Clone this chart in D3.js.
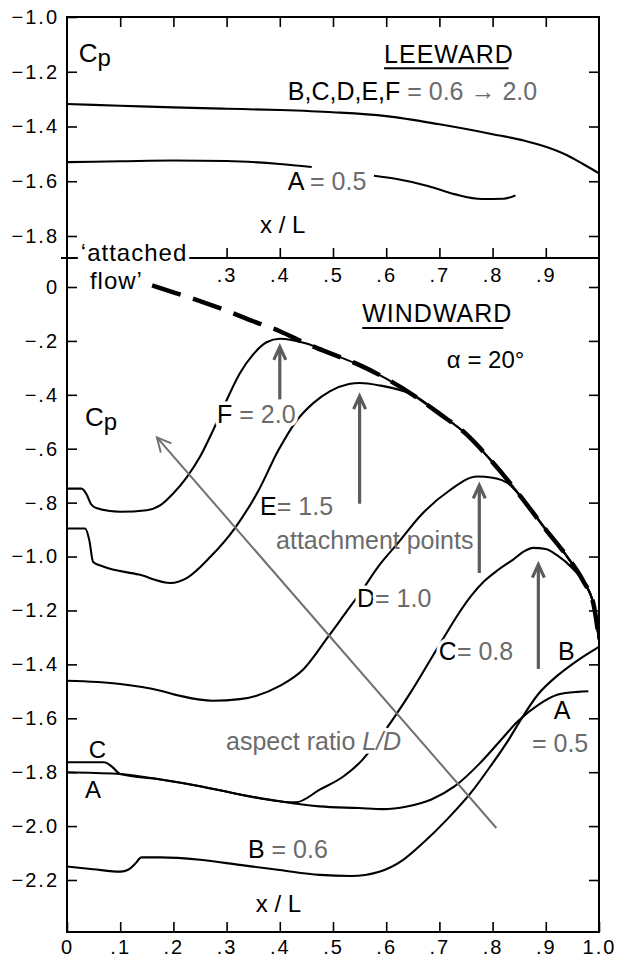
<!DOCTYPE html>
<html>
<head>
<meta charset="utf-8">
<script src="https://cdn.jsdelivr.net/npm/d3@7"></script>
<style>
body { margin: 0; background: #fff; }
svg { display: block; }
text { font-family: "Liberation Sans", Arial, sans-serif; }
</style>
</head>
<body>
<svg id="chart" width="624" height="958"></svg>
<script>
// ---- leeward (upper panel) ----
var leeBF_x = [0, 0.1, 0.2, 0.3, 0.4, 0.5, 0.6, 0.7, 0.8, 0.86, 0.9, 0.94, 0.97, 1.0];
var leeBF_y = [-1.318, -1.324, -1.330, -1.335, -1.340, -1.348, -1.362, -1.392, -1.428, -1.452, -1.474, -1.505, -1.537, -1.571];
var leeA_x = [0, 0.1, 0.2, 0.3, 0.4, 0.46, 0.52, 0.577, 0.62, 0.68, 0.73, 0.78, 0.82, 0.843];
var leeA_y = [-1.53, -1.527, -1.524, -1.526, -1.537, -1.548, null, -1.580, -1.592, -1.618, -1.648, -1.665, -1.664, -1.652];

// ---- windward (lower panel) ----
// common attached-flow branch that F, E, D, C run into
var tail_x = [0.45, 0.5, 0.55, 0.6, 0.65, 0.7, 0.75, 0.8, 0.85, 0.9, 0.94, 0.97, 0.99, 1.0];
var tail_y = [-0.21, -0.25, -0.29, -0.34, -0.40, -0.47, -0.545, -0.65, -0.77, -0.90, -1.0, -1.09, -1.18, -1.31];
var att_x = [0.16, 0.2, 0.25, 0.3, 0.35, 0.4];
var att_y = [0.006, -0.02, -0.052, -0.088, -0.127, -0.164];

var F_x = [0, 0.027, 0.037, 0.045, 0.055, 0.1, 0.15, 0.175, 0.2, 0.225, 0.25, 0.275, 0.3, 0.325, 0.35, 0.375, 0.4];
var F_y = [-0.748, -0.748, -0.77, -0.805, -0.82, -0.834, -0.828, -0.81, -0.765, -0.706, -0.63, -0.53, -0.42, -0.32, -0.25, -0.205, -0.192];
var E_x = [0, 0.034, 0.042, 0.049, 0.068, 0.135, 0.195, 0.225, 0.27, 0.315, 0.36, 0.397, 0.43, 0.464, 0.494, 0.53, 0.55, 0.59, 0.63];
var E_y = [-0.896, -0.896, -0.94, -1.02, -1.037, -1.067, -1.098, -1.08, -1.0, -0.896, -0.755, -0.607, -0.50, -0.429, -0.387, -0.36, -0.356, -0.366, -0.385];
var D_x = [0, 0.1, 0.176, 0.213, 0.273, 0.325, 0.355, 0.4, 0.445, 0.49, 0.527, 0.553, 0.584, 0.622, 0.666, 0.719, 0.771, 0.80, 0.83];
var D_y = [-1.461, -1.473, -1.498, -1.517, -1.535, -1.529, -1.517, -1.48, -1.417, -1.30, -1.20, -1.13, -1.04, -0.95, -0.845, -0.755, -0.703, -0.708, -0.73];
var C_x = [0, 0.07, 0.085, 0.1, 0.176, 0.25, 0.325, 0.4, 0.43, 0.475, 0.52, 0.553, 0.585, 0.617, 0.646, 0.684, 0.71, 0.735, 0.76, 0.785, 0.81, 0.838, 0.86, 0.876, 0.90, 0.921, 0.951];
var C_y = [-1.763, -1.763, -1.78, -1.807, -1.827, -1.852, -1.883, -1.908, -1.912, -1.865, -1.815, -1.759, -1.68, -1.591, -1.504, -1.38, -1.295, -1.215, -1.145, -1.09, -1.05, -1.012, -0.98, -0.968, -0.972, -0.995, -1.045];
var A_x = [0, 0.093, 0.176, 0.25, 0.325, 0.4, 0.475, 0.549, 0.594, 0.639, 0.684, 0.729, 0.774, 0.811, 0.848, 0.886, 0.923, 0.96, 0.98];
var A_y = [-1.8, -1.806, -1.827, -1.852, -1.883, -1.908, -1.927, -1.933, -1.937, -1.927, -1.902, -1.852, -1.771, -1.691, -1.61, -1.55, -1.512, -1.502, -1.5];
var B_x = [0, 0.049, 0.101, 0.115, 0.128, 0.14, 0.176, 0.25, 0.325, 0.4, 0.475, 0.534, 0.587, 0.632, 0.669, 0.714, 0.759, 0.796, 0.83, 0.85, 0.886, 0.923, 0.96, 1.0];
var B_y = [-2.15, -2.16, -2.169, -2.162, -2.14, -2.116, -2.116, -2.125, -2.144, -2.163, -2.181, -2.185, -2.169, -2.125, -2.063, -1.976, -1.877, -1.778, -1.68, -1.615, -1.51, -1.44, -1.385, -1.335];

// attachment-point arrows: x, from, to
var arr_x = [0.40, 0.55, 0.775, 0.886];
var arr_from = [-0.417, -0.804, -1.061, -1.417];
var arr_to = [-0.222, -0.405, -0.736, -1.03];

// ticks
var xTicks = [0, 0.1, 0.2, 0.3, 0.4, 0.5, 0.6, 0.7, 0.8, 0.9, 1.0];
var sepLabels = [0.3, 0.4, 0.5, 0.6, 0.7, 0.8, 0.9];
var yTicksU = [-1.0, -1.2, -1.4, -1.6, -1.8];
var yTicksL = [0, -0.2, -0.4, -0.6, -0.8, -1.0, -1.2, -1.4, -1.6, -1.8, -2.0, -2.2];

var GRAY = "#6b6b6b";
var svg = d3.select("#chart");
var x = d3.scaleLinear().domain([0, 1]).range([67, 599]);
var yU = d3.scaleLinear().domain([-1.0, -1.8]).range([17, 236]);
var yL = d3.scaleLinear().domain([0, -2.2]).range([287, 880]);
var yTop = 17, ySep = 258, yBot = 932;

function pts(xs, ys) { return xs.map(function(v, i) { return [v, ys[i]]; }); }
var lineU = d3.line().defined(function(d) { return d[1] != null; })
  .x(function(d) { return x(d[0]); }).y(function(d) { return yU(d[1]); })
  .curve(d3.curveMonotoneX);
var lineL = d3.line()
  .x(function(d) { return x(d[0]); }).y(function(d) { return yL(d[1]); })
  .curve(d3.curveMonotoneX);

function fmt(v) {
  if (v === 0) return "0";
  var a = Math.abs(v), s = d3.format(".1f")(a);
  if (a < 1) s = s.slice(1);
  return (v < 0 ? "\u2212" : "") + s;
}

// ---- frame and axes ----
function styleAxis(g) {
  g.select(".domain").remove();
  g.selectAll("line").attr("stroke", "#000").attr("stroke-width", 1.6);
  g.selectAll("text").attr("font-family", "Liberation Sans, Arial, sans-serif")
    .attr("font-size", 20).attr("fill", "#000").attr("letter-spacing", 2);
}
svg.append("g").attr("transform", "translate(" + x(0) + ",0)")
  .call(d3.axisLeft(yU).tickValues(yTicksU).tickSize(-10).tickPadding(8).tickFormat(fmt)).call(styleAxis);
svg.append("g").attr("transform", "translate(" + x(0) + ",0)")
  .call(d3.axisLeft(yL).tickValues(yTicksL).tickSize(-10).tickPadding(8).tickFormat(fmt)).call(styleAxis);
svg.append("g").attr("transform", "translate(" + x(1) + ",0)")
  .call(d3.axisRight(yU).tickValues(yTicksU.slice(1)).tickSize(-10).tickFormat("")).call(styleAxis);
svg.append("g").attr("transform", "translate(" + x(1) + ",0)")
  .call(d3.axisRight(yL).tickValues(yTicksL).tickSize(-10).tickFormat("")).call(styleAxis);
svg.append("g").attr("transform", "translate(0," + yBot + ")")
  .call(d3.axisBottom(x).tickValues(xTicks).tickSize(-10).tickPadding(8).tickFormat(fmt)).call(styleAxis);
svg.append("g").attr("transform", "translate(0," + yTop + ")")
  .call(d3.axisTop(x).tickValues(xTicks.slice(1, -1)).tickSize(-10).tickFormat("")).call(styleAxis);
svg.append("g").attr("transform", "translate(0," + ySep + ")")
  .call(d3.axisTop(x).tickValues(xTicks.slice(1, -1)).tickSize(10).tickFormat("")).call(styleAxis);
svg.append("g").attr("transform", "translate(0," + ySep + ")")
  .call(d3.axisBottom(x).tickValues(sepLabels).tickSize(0).tickPadding(10).tickFormat(fmt)).call(styleAxis);

svg.append("rect").attr("x", x(0)).attr("y", yTop)
  .attr("width", x(1) - x(0)).attr("height", yBot - yTop)
  .attr("fill", "none").attr("stroke", "#000").attr("stroke-width", 2);
svg.append("line").attr("x1", x(0) - 6).attr("x2", x(1)).attr("y1", ySep).attr("y2", ySep)
  .attr("stroke", "#000").attr("stroke-width", 2);

// ---- curves ----
var curves = svg.append("g").attr("fill", "none").attr("stroke", "#000").attr("stroke-width", 2.1)
  .attr("stroke-linejoin", "round");
curves.append("path").attr("d", lineU(pts(leeBF_x, leeBF_y)));
curves.append("path").attr("d", lineU(pts(leeA_x, leeA_y)));
curves.append("path").attr("d", lineL(pts(F_x, F_y).concat(pts(tail_x, tail_y))));
curves.append("path").attr("d", lineL(pts(E_x, E_y).concat(pts(tail_x, tail_y).filter(function(d) { return d[0] > 0.63; }))));
curves.append("path").attr("d", lineL(pts(D_x, D_y).concat(pts(tail_x, tail_y).filter(function(d) { return d[0] > 0.83; }))));
curves.append("path").attr("d", lineL(pts(C_x, C_y).concat(pts(tail_x, tail_y).filter(function(d) { return d[0] > 0.951; }))));
curves.append("path").attr("d", lineL(pts(A_x, A_y)));
curves.append("path").attr("d", lineL(pts(B_x, B_y)));

// attached-flow dashed line
svg.append("path").attr("d", lineL(pts(att_x, att_y).concat(pts(tail_x, tail_y))))
  .attr("fill", "none").attr("stroke", "#000").attr("stroke-width", 4.5)
  .attr("stroke-dasharray", "30,13");

// ---- arrows ----
function arrowHead(g, x1, y1, x2, y2, len, half, color, w) {
  var a = Math.atan2(y2 - y1, x2 - x1);
  var p1 = [x2 - len * Math.cos(a) + half * Math.sin(a), y2 - len * Math.sin(a) - half * Math.cos(a)];
  var p2 = [x2 - len * Math.cos(a) - half * Math.sin(a), y2 - len * Math.sin(a) + half * Math.cos(a)];
  g.append("path").attr("d", "M" + p1 + "L" + [x2, y2] + "L" + p2)
    .attr("fill", "none").attr("stroke", color).attr("stroke-width", w).attr("stroke-linejoin", "miter");
}
var arrows = svg.append("g");
arr_x.forEach(function(v, i) {
  var X = x(v), Y1 = yL(arr_from[i]), Y2 = yL(arr_to[i]);
  arrows.append("line").attr("x1", X).attr("x2", X).attr("y1", Y1).attr("y2", Y2 + 2)
    .attr("stroke", "#5c5c5c").attr("stroke-width", 3.2);
  arrowHead(arrows, X, Y1, X, Y2, 13, 6, "#5c5c5c", 3.2);
});
var dx1 = x(0.807), dy1 = yL(-2.007), dx2 = x(0.169), dy2 = yL(-0.558);
arrows.append("line").attr("x1", dx1).attr("y1", dy1).attr("x2", dx2).attr("y2", dy2)
  .attr("stroke", "#707070").attr("stroke-width", 2);
arrowHead(arrows, dx1, dy1, dx2, dy2, 14, 7, "#707070", 2);

// ---- labels ----
function label(px, py, parts, size, halo) {
  var t = svg.append("text").attr("x", px).attr("y", py).attr("font-size", size || 25);
  if (halo) t.attr("stroke", "#fff").attr("stroke-width", 7).attr("paint-order", "stroke").attr("stroke-linejoin", "round");
  parts.forEach(function(p) {
    var s = t.append("tspan").text(p[0]).attr("fill", p[1] || "#000");
    if (p[2]) s.attr("font-style", "italic");
    if (p[3]) s.attr("dy", p[3]);
    if (p[4]) s.attr("font-size", p[4]);
  });
  return t;
}
function underline(x1, x2, py) {
  svg.append("line").attr("x1", x1).attr("x2", x2).attr("y1", py).attr("y2", py)
    .attr("stroke", "#000").attr("stroke-width", 2);
}

// upper panel
label(x(0.022), yU(-1.164), [["C"], ["p", null, false, 4, 24]], 26);
label(x(0.596), yU(-1.168), [["LEEWARD"]], 25).attr("letter-spacing", 1);
underline(x(0.596), x(0.83), yU(-1.187));
label(x(0.415), yU(-1.303), [["B,C,D,E,F"], [" = 0.6 \u2192 2.0", GRAY]], 25);
label(x(0.415), yU(-1.632), [["A"], [" = 0.5", GRAY]], 25);
label(x(0.363), yU(-1.789), [["x / L"]], 24);

// 'attached flow' sits across the panel divider, blanking it
var att = label(x(0.026), yL(0.097), [["\u2018attached"]], 24).attr("letter-spacing", 1);
var bb = att.node().getBBox();
svg.insert("rect", function() { return att.node(); })
  .attr("x", bb.x - 3).attr("y", bb.y + 2).attr("width", bb.width + 5).attr("height", bb.height - 3)
  .attr("fill", "#fff");
label(x(0.043), yL(-0.008), [["flow\u2019"]], 24).attr("letter-spacing", 1);

// lower panel
label(x(0.555), yL(-0.13), [["WINDWARD"]], 25).attr("letter-spacing", 1);
underline(x(0.555), x(0.82), yL(-0.152));
label(x(0.714), yL(-0.30), [["\u03b1  =  20\u00b0"]], 24);
label(x(0.034), yL(-0.516), [["C"], ["p", null, false, 4, 24]], 26);
label(x(0.282), yL(-0.505), [["F"], [" = 2.0", GRAY]], 25, true);
label(x(0.363), yL(-0.846), [["E"], ["= 1.5", GRAY]], 25, true);
label(x(0.393), yL(-0.972), [["attachment points", GRAY]], 25);
label(x(0.545), yL(-1.187), [["D"], ["= 1.0", GRAY]], 25, true);
label(x(0.699), yL(-1.384), [["C"], ["= 0.8", GRAY]], 25, true);
label(x(0.923), yL(-1.384), [["B"]], 25);
label(x(0.915), yL(-1.603), [["A"]], 25);
label(x(0.874), yL(-1.725), [["= 0.5", GRAY]], 25);
label(x(0.299), yL(-1.718), [["aspect ratio ", GRAY], ["L/D", GRAY, true]], 25, true);
label(x(0.041), yL(-1.748), [["C"]], 24);
label(x(0.034), yL(-1.896), [["A"]], 24);
label(x(0.340), yL(-2.119), [["B"], [" = 0.6", GRAY]], 25);
label(x(0.355), yL(-2.319), [["x / L"]], 24);
</script>
</body>
</html>
